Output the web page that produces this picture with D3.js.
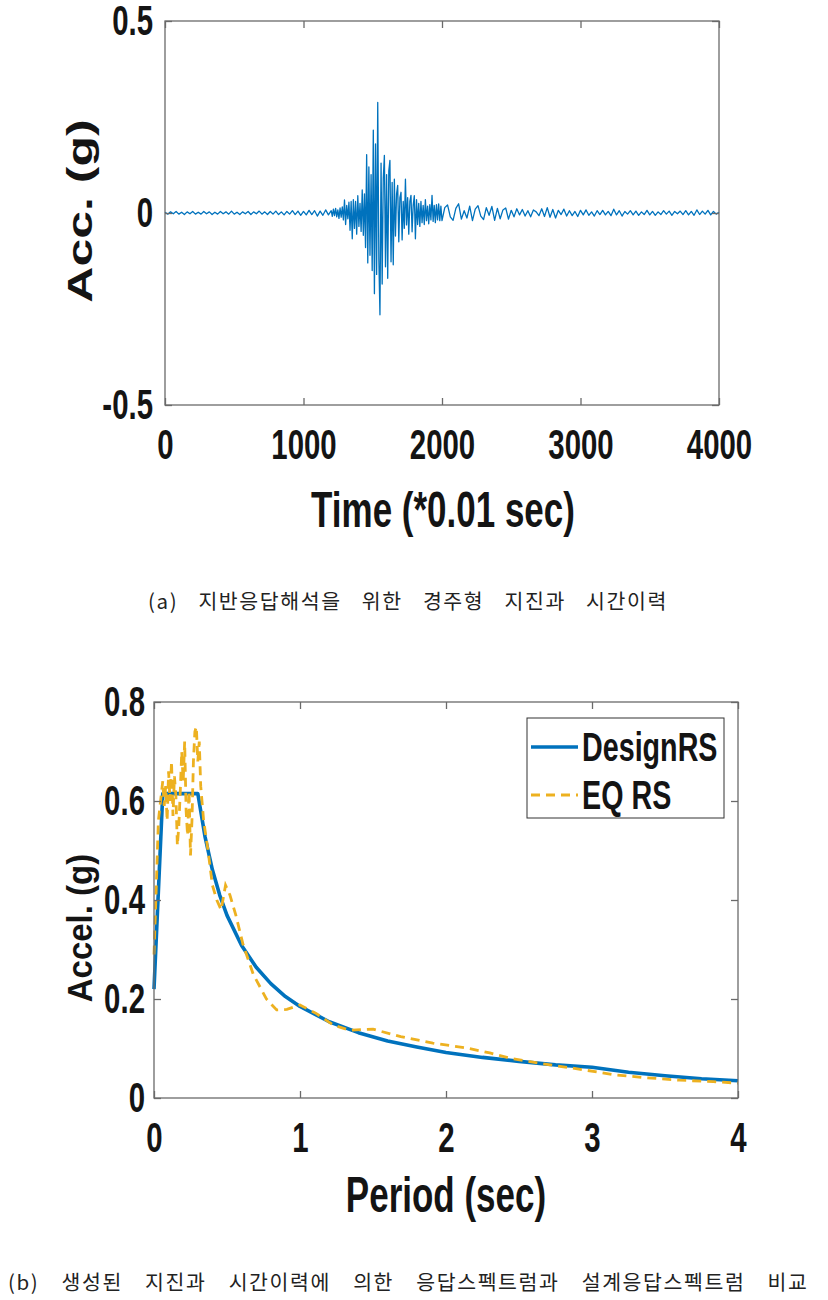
<!DOCTYPE html>
<html>
<head>
<meta charset="utf-8">
<script src="https://d3js.org/d3.v7.min.js"></script>
<style>
  body { margin: 0; background: #fff; }
  .lbl { font-family: "Liberation Sans", Arial, sans-serif; font-weight: bold; fill: #141414; }
  .cap { font-family: "Noto Sans CJK KR", sans-serif; font-weight: 400; fill: #222; font-size: 20.5px; letter-spacing: 1.6px; word-spacing: 14px; }
</style>
</head>
<body>
<svg id="fig" width="828" height="1300"></svg>
<script>
// --- (a) acceleration time history ---
// t = 0..1180 step 20
const accPre = [0.002,-0.003,0.003,-0.002,0.004,-0.003,0.002,-0.004,0.003,-0.002,
  0.004,-0.003,0.002,-0.003,0.004,-0.002,0.003,-0.004,0.002,-0.003,
  0.004,-0.002,0.003,-0.003,0.005,-0.003,0.002,-0.004,0.003,-0.002,
  0.004,-0.004,0.003,-0.002,0.005,-0.003,0.003,-0.004,0.004,-0.003,
  0.005,-0.004,0.003,-0.005,0.004,-0.003,0.006,-0.004,0.005,-0.006,
  0.004,-0.005,0.007,-0.004,0.006,-0.008,0.005,-0.006,0.008,-0.005];
// t = 1200..1992 step 8
const accMain = [0.006,-0.009,0.010,-0.007,0.012,-0.010,0.008,-0.014,0.013,-0.011,0.016,-0.018,
  0.034,-0.030,0.020,-0.015,0.028,-0.045,0.030,-0.067,0.035,-0.040,
  0.030,-0.055,0.045,-0.035,0.025,-0.048,0.060,-0.058,0.050,-0.090,
  0.152,-0.130,0.120,-0.110,0.100,-0.150,0.216,-0.210,0.180,-0.160,
  0.288,-0.120,-0.265,0.130,-0.185,0.090,0.150,-0.140,0.100,-0.170,
  0.110,0.137,-0.127,0.080,-0.135,0.088,-0.060,0.050,0.072,-0.075,
  0.040,0.054,-0.070,0.030,-0.040,0.088,-0.031,0.040,-0.055,0.030,
  0.046,-0.049,0.020,0.045,-0.067,0.035,-0.030,0.025,-0.035,0.030,
  -0.025,0.020,-0.030,0.035,-0.020,0.018,-0.028,0.022,-0.018,0.046,
  -0.022,0.020,-0.025,0.022,-0.018,0.024,-0.020,0.018];
// t = 2000..4000 step 20
const accPost = [-0.020,0.014,0.021,-0.010,-0.019,0.012,0.024,-0.016,0.006,-0.013,
  0.018,-0.020,0.010,0.019,-0.008,-0.017,0.014,-0.006,0.017,-0.019,
  0.012,-0.015,0.008,0.013,-0.016,0.007,-0.010,0.011,-0.005,0.009,
  -0.008,0.006,-0.010,0.008,0.003,-0.007,0.011,-0.009,0.014,-0.011,
  0.009,-0.013,0.007,-0.004,0.010,-0.008,0.006,-0.007,0.004,-0.009,
  0.007,-0.005,0.008,-0.006,0.003,-0.008,0.006,-0.004,0.007,-0.005,
  0.004,-0.007,0.010,-0.005,0.006,-0.008,0.004,-0.003,0.006,-0.005,
  0.005,-0.006,0.003,-0.004,0.007,-0.005,0.004,-0.006,0.003,-0.004,
  0.006,-0.003,0.005,-0.006,0.004,-0.002,0.005,-0.004,0.006,-0.005,
  0.004,-0.006,0.008,-0.004,0.005,-0.003,0.007,-0.005,0.004,-0.003,0.002];

const timeTicks = [0, 1000, 2000, 3000, 4000];
const accTicks = [-0.5, 0, 0.5];

// --- (b) response spectra ---
const designT = [0, 0.06, 0.3, 0.35, 0.4, 0.45, 0.5, 0.6, 0.7, 0.8, 0.9, 1.0, 1.2, 1.4, 1.6, 1.8,
  2.0, 2.25, 2.5, 2.75, 3.0, 3.25, 3.5, 3.75, 4.0];
const designSa = [0.22, 0.615, 0.615, 0.527, 0.461, 0.41, 0.369, 0.308, 0.264, 0.231, 0.205, 0.185,
  0.154, 0.132, 0.115, 0.103, 0.092, 0.082, 0.074, 0.067, 0.062, 0.052, 0.045, 0.039, 0.035];
const eqT = [0, 0.015, 0.03, 0.045, 0.06, 0.07, 0.08, 0.09, 0.10, 0.11, 0.12, 0.13, 0.14, 0.15,
  0.16, 0.17, 0.18, 0.19, 0.20, 0.21, 0.22, 0.23, 0.24, 0.25, 0.26, 0.27, 0.28, 0.29, 0.30,
  0.31, 0.32, 0.34, 0.37, 0.40, 0.43, 0.46, 0.49, 0.52, 0.56, 0.61, 0.68, 0.77, 0.84, 0.91,
  1.0, 1.11, 1.23, 1.34, 1.5, 1.69, 1.91, 2.14, 2.3, 2.46, 2.69, 2.92, 3.15, 3.37, 3.6, 3.83, 4.0];
const eqSa = [0.29, 0.42, 0.56, 0.60, 0.64, 0.59, 0.63, 0.56, 0.66, 0.60, 0.68, 0.57, 0.65, 0.61,
  0.51, 0.55, 0.62, 0.70, 0.64, 0.72, 0.58, 0.53, 0.62, 0.49, 0.56, 0.68, 0.74, 0.75, 0.68,
  0.72, 0.63, 0.56, 0.50, 0.43, 0.40, 0.38, 0.43, 0.41, 0.37, 0.31, 0.25, 0.20, 0.178, 0.179,
  0.188, 0.171, 0.147, 0.137, 0.139, 0.124, 0.111, 0.101, 0.091, 0.079, 0.068, 0.058, 0.047,
  0.041, 0.036, 0.033, 0.030];
const periodTicks = [0, 1, 2, 3, 4];
const saTicks = [0, 0.2, 0.4, 0.6, 0.8];
const seriesNames = ["DesignRS", "EQ RS"];

const blue = "#0072BD", yellow = "#EDB120", axisCol = "#6a6a6a";
const svg = d3.select("#fig");
const plain = d => String(d);

function tidyAxis(g, origin, size) {
  g.select(".domain").remove();
  g.selectAll(".tick line").attr("stroke", axisCol).attr("stroke-width", 1.3);
  g.selectAll("text")
    .attr("class", "lbl")
    .style("font-size", size + "px")
    .style("transform-box", "fill-box")
    .style("transform-origin", origin)
    .style("transform", "scaleX(0.7)");
}

function frame(x, y, xt, yt, yPad, titleX, titleY, xTitlePos, yTitlePos, yTitleStretch) {
  const [x0, x1] = x.range(), [y0, y1] = y.range();
  svg.append("rect").attr("x", x0).attr("y", y1).attr("width", x1 - x0).attr("height", y0 - y1)
    .attr("fill", "none").attr("stroke", axisCol).attr("stroke-width", 1.3);
  svg.append("g").attr("transform", `translate(0,${y0})`)
    .call(d3.axisBottom(x).tickValues(xt).tickSize(-7).tickPadding(24).tickFormat(plain))
    .call(g => tidyAxis(g, "50% 50%", 42));
  svg.append("g").attr("transform", `translate(0,${y1})`)
    .call(d3.axisTop(x).tickValues(xt).tickSize(-7).tickFormat(""))
    .call(g => tidyAxis(g, "50% 50%", 42));
  svg.append("g").attr("transform", `translate(${x0},0)`)
    .call(d3.axisLeft(y).tickValues(yt).tickSize(-7).tickPadding(yPad).tickFormat(plain))
    .call(g => tidyAxis(g, "100% 50%", 42));
  svg.append("g").attr("transform", `translate(${x1},0)`)
    .call(d3.axisRight(y).tickValues(yt).tickSize(-7).tickFormat(""))
    .call(g => tidyAxis(g, "0% 50%", 42));
  svg.append("text").attr("class", "lbl").style("font-size", "50px")
    .attr("text-anchor", "middle").attr("dominant-baseline", "central")
    .attr("transform", `translate(${xTitlePos[0]},${xTitlePos[1]}) scale(0.7,1)`).text(titleX);
  svg.append("text").attr("class", "lbl").style("font-size", "50px")
    .attr("text-anchor", "middle").attr("dominant-baseline", "central")
    .attr("transform", `translate(${yTitlePos[0]},${yTitlePos[1]}) rotate(-90) scale(${yTitleStretch},0.7)`)
    .text(titleY);
}

// ---------- (a) ----------
const accData = [];
accPre.forEach((v, i) => accData.push([i * 20, v]));
accMain.forEach((v, i) => accData.push([1200 + i * 8, v]));
accPost.forEach((v, i) => accData.push([2000 + i * 20, v]));

const xa = d3.scaleLinear().domain([0, 4000]).range([165, 719]);
const ya = d3.scaleLinear().domain([-0.5, 0.5]).range([405, 21]);

svg.append("path").datum(accData)
  .attr("fill", "none").attr("stroke", blue).attr("stroke-width", 1.3).attr("stroke-linejoin", "round")
  .attr("d", d3.line().x(d => xa(d[0])).y(d => ya(d[1])));
frame(xa, ya, timeTicks, accTicks, 12, "Time (*0.01 sec)", "Acc. (g)", [443, 510], [80, 211], 1);

svg.append("text").attr("class", "cap").attr("x", 148).attr("y", 600)
  .attr("dominant-baseline", "central")
  .text("(a) 지반응답해석을 위한 경주형 지진과 시간이력");

// ---------- (b) ----------
const xb = d3.scaleLinear().domain([0, 4]).range([154, 738]);
const yb = d3.scaleLinear().domain([0, 0.8]).range([1098, 702]);
const line = d3.line().x(d => xb(d[0])).y(d => yb(d[1]));

svg.append("path").datum(d3.zip(designT, designSa))
  .attr("fill", "none").attr("stroke", blue).attr("stroke-width", 3.6).attr("stroke-linejoin", "round")
  .attr("d", line);
svg.append("path").datum(d3.zip(eqT, eqSa))
  .attr("fill", "none").attr("stroke", yellow).attr("stroke-width", 2.8).attr("stroke-dasharray", "9,6")
  .attr("d", line);
frame(xb, yb, periodTicks, saTicks, 9, "Period (sec)", "Accel. (g)", [446, 1195], [80, 928], 0.66);

// legend
const lg = svg.append("g");
lg.append("rect").attr("x", 527).attr("y", 718).attr("width", 197).attr("height", 100)
  .attr("fill", "#fff").attr("stroke", "#333").attr("stroke-width", 1);
seriesNames.forEach((name, i) => {
  const yy = 747 + i * 48;
  lg.append("line").attr("x1", 531).attr("x2", 578).attr("y1", yy).attr("y2", yy)
    .attr("stroke", i === 0 ? blue : yellow).attr("stroke-width", i === 0 ? 3.6 : 2.8)
    .attr("stroke-dasharray", i === 0 ? null : "9,6");
  lg.append("text").attr("class", "lbl").style("font-size", "41px")
    .attr("dominant-baseline", "central")
    .attr("transform", `translate(582,${yy}) scale(0.7,1)`).text(name);
});

svg.append("text").attr("class", "cap").attr("x", 8).attr("y", 1281)
  .attr("dominant-baseline", "central").style("word-spacing", "16px")
  .text("(b) 생성된 지진과 시간이력에 의한 응답스펙트럼과 설계응답스펙트럼 비교");
</script>
</body>
</html>
